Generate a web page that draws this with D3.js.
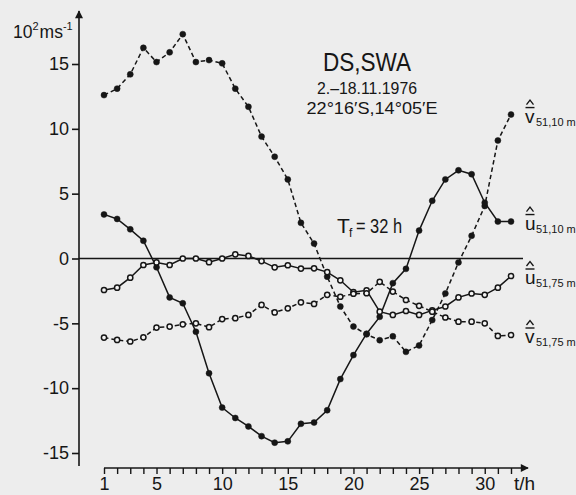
<!DOCTYPE html>
<html><head><meta charset="utf-8">
<script src="https://cdn.jsdelivr.net/npm/d3@7"></script>
<style>
body{margin:0;background:#ededed}
svg{display:block}
text{font-family:"Liberation Sans",Arial,sans-serif;fill:#161616}
</style>
</head><body>
<svg id="c" width="576" height="495"></svg>
<script>
// ---- data ----
const hours = [1,2,3,4,5,6,7,8,9,10,11,12,13,14,15,16,17,18,19,20,21,22,23,24,25,26,27,28,29,30,31,32];
const vBar10 = [12.6,13.1,14.2,16.25,15.15,15.9,17.3,15.15,15.3,15.05,13.1,11.7,9.4,7.85,6.1,2.75,1.15,-1.4,-3.7,-5.25,-5.85,-6.3,-6.0,-7.2,-6.7,-4.75,-2.7,-0.3,1.75,4.05,9.1,11.1];
const uBar10 = [3.4,3.05,2.25,1.37,-0.68,-3.0,-3.45,-5.65,-8.85,-11.5,-12.3,-12.95,-13.7,-14.2,-14.1,-12.75,-12.65,-11.7,-9.3,-7.45,-5.8,-4.5,-1.9,-0.8,2.15,4.45,6.1,6.8,6.5,4.3,2.85,2.85];
const uBar75 = [-2.43,-2.25,-1.48,-0.5,-0.3,-0.5,0.0,0.0,-0.28,0.0,0.32,0.2,-0.2,-0.68,-0.52,-0.78,-0.76,-1.05,-1.68,-2.6,-2.45,-4.1,-4.35,-4.05,-4.35,-4.0,-3.7,-3.0,-2.7,-2.8,-2.25,-1.35];
const vBar75 = [-6.1,-6.28,-6.4,-6.08,-5.33,-5.25,-5.08,-5.0,-5.3,-4.67,-4.6,-4.35,-3.58,-4.16,-3.84,-3.38,-3.5,-2.8,-2.95,-2.72,-2.68,-1.8,-2.55,-3.2,-3.65,-4.1,-4.55,-4.87,-4.87,-5.0,-5.97,-5.9];
const xTickLabels = [1,5,10,15,20,25,30];
const yTickValues = [-15,-10,-5,0,5,10,15];
const seriesNames = ["v","u","u","v"];
const seriesSubs = ["51,10 m","51,10 m","51,75 m","51,75 m"];

// ---- drawing ----
const ink = "#161616";
const svg = d3.select("#c");
const x = d3.scaleLinear().domain([1,32]).range([104,511]);
const y = d3.scaleLinear().domain([-15,15]).range([453,64]);

// arrow marker
const defs = svg.append("defs");
defs.append("marker").attr("id","arr").attr("viewBox","0 0 10 10")
  .attr("refX",9).attr("refY",5).attr("markerWidth",10).attr("markerHeight",8)
  .attr("markerUnits","userSpaceOnUse").attr("orient","auto")
  .append("path").attr("d","M0,0L10,5L0,10Z").attr("fill",ink);

// y axis
const yAxis = d3.axisLeft(y).tickValues(yTickValues).tickSize(7).tickPadding(3)
  .tickFormat(d => d < 0 ? "-" + Math.abs(d) : d);
const gy = svg.append("g").attr("transform","translate(79,0)").call(yAxis);
gy.select(".domain").remove();
gy.selectAll(".tick line").attr("stroke",ink).attr("stroke-width",1.6);
gy.selectAll(".tick text").attr("font-size",18).attr("font-family","Liberation Sans, Arial, sans-serif").attr("fill",ink);
svg.append("line").attr("x1",79).attr("x2",79).attr("y1",466).attr("y2",11)
  .attr("stroke",ink).attr("stroke-width",1.6).attr("marker-end","url(#arr)");

// x axis
const xAxis = d3.axisBottom(x).tickValues(hours).tickSize(6).tickPadding(3)
  .tickFormat(d => xTickLabels.includes(d) ? d : "");
const gx = svg.append("g").attr("transform","translate(0,468)").call(xAxis);
gx.select(".domain").remove();
gx.selectAll(".tick line").attr("stroke",ink).attr("stroke-width",1.4);
gx.selectAll(".tick text").attr("font-size",18).attr("font-family","Liberation Sans, Arial, sans-serif").attr("fill",ink).attr("dy","0.72em");
svg.append("line").attr("x1",x(1)).attr("x2",528).attr("y1",468).attr("y2",468)
  .attr("stroke",ink).attr("stroke-width",1.6).attr("marker-end","url(#arr)");
svg.append("text").attr("x",514).attr("y",490).attr("font-size",19).text("t/h");

// zero line
svg.append("line").attr("x1",79).attr("x2",523).attr("y1",y(0)).attr("y2",y(0))
  .attr("stroke",ink).attr("stroke-width",1.5);

// unit label
const ul = svg.append("text").attr("x",13).attr("y",38).attr("font-size",17.5);
ul.append("tspan").text("10");
ul.append("tspan").attr("font-size",11).attr("dy",-8).text("2");
ul.append("tspan").attr("dy",8).attr("dx",1).text("ms");
ul.append("tspan").attr("font-size",11).attr("dy",-8).text("-1");

// series
const series = [
  {vals:vBar10, dashed:true,  filled:true},
  {vals:uBar10, dashed:false, filled:true},
  {vals:uBar75, dashed:false, filled:false},
  {vals:vBar75, dashed:true,  filled:false}
];
const line = d3.line().x((d,i)=>x(hours[i])).y(d=>y(d));
series.forEach((s,k)=>{
  svg.append("path").datum(s.vals).attr("d",line).attr("fill","none")
    .attr("stroke",ink).attr("stroke-width",1.5)
    .attr("stroke-dasharray", s.dashed ? "4.5,3" : null);
});
series.forEach((s,k)=>{
  svg.append("g").selectAll("circle").data(s.vals).join("circle")
    .attr("cx",(d,i)=>x(hours[i])).attr("cy",d=>y(d))
    .attr("r", s.filled ? 3 : 2.6)
    .attr("fill", s.filled ? ink : "#f4f4f4")
    .attr("stroke", ink).attr("stroke-width", s.filled ? 0.5 : 1.5);
});

// right-side labels
series.forEach((s,k)=>{
  const by = y(s.vals[s.vals.length-1]) + 8;
  const lx = 525;
  svg.append("text").attr("x",lx).attr("y",by).attr("font-size",19).text(seriesNames[k]);
  svg.append("text").attr("x",lx+11).attr("y",by+3).attr("font-size",11).text(seriesSubs[k]);
  // bar and hat over the letter
  svg.append("line").attr("x1",lx+0.5).attr("x2",lx+9.5).attr("y1",by-15).attr("y2",by-15)
    .attr("stroke",ink).attr("stroke-width",1.4);
  svg.append("path").attr("d",`M${lx+1.5},${by-18}L${lx+5},${by-22.5}L${lx+8.5},${by-18}`)
    .attr("fill","none").attr("stroke",ink).attr("stroke-width",1.3);
});

// titles
svg.append("text").attr("x",367).attr("y",71).attr("text-anchor","middle").attr("font-size",26)
  .attr("textLength",88).attr("lengthAdjust","spacingAndGlyphs").text("DS,SWA");
svg.append("text").attr("x",367).attr("y",94).attr("text-anchor","middle").attr("font-size",17)
  .attr("textLength",100).attr("lengthAdjust","spacingAndGlyphs").text("2.–18.11.1976");
svg.append("text").attr("x",372).attr("y",113.5).attr("text-anchor","middle").attr("font-size",16.5)
  .attr("textLength",131).attr("lengthAdjust","spacingAndGlyphs").text("22°16′S,14°05′E");
svg.append("text").attr("x",337).attr("y",233).attr("font-size",21).text("T");
svg.append("text").attr("x",349).attr("y",237).attr("font-size",12).text("f");
svg.append("text").attr("x",356).attr("y",233).attr("font-size",20)
  .attr("textLength",46).attr("lengthAdjust","spacingAndGlyphs").text("= 32 h");
</script>
</body></html>
